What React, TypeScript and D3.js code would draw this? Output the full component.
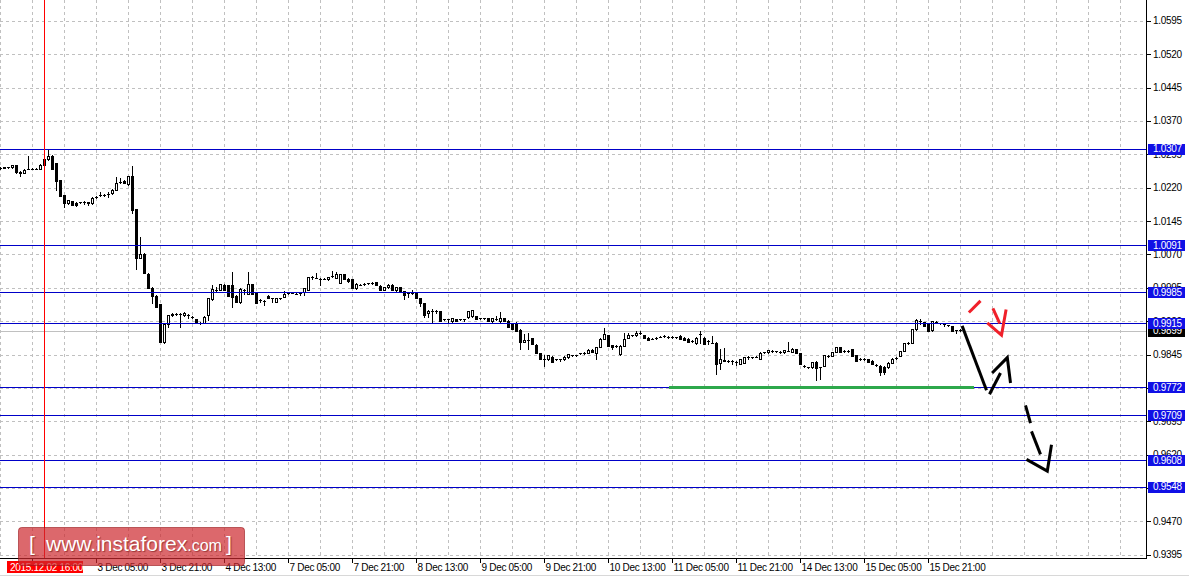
import * as d3 from 'd3';
import * as React from 'react';

const W = 1189;
const H = 578;
const plotRight = 1147;
const plotBottom = 558;

// H1 candles [open, high, low, close]
const candles: Array<[number, number, number, number]> = [
  [1.0265, 1.0267, 1.0263, 1.0265], [1.0265, 1.0267, 1.0264, 1.0266], [1.0266, 1.0267, 1.0264, 1.0266],
  [1.0266, 1.0271, 1.0265, 1.027], [1.027, 1.0271, 1.0254, 1.0255], [1.0255, 1.0257, 1.0246, 1.0254],
  [1.0254, 1.0261, 1.0252, 1.026], [1.0262, 1.0292, 1.0261, 1.0263], [1.0263, 1.0264, 1.0261, 1.0263],
  [1.0263, 1.0264, 1.0261, 1.0263], [1.0263, 1.0273, 1.0262, 1.0272], [1.0272, 1.0285, 1.0271, 1.0284],
  [1.0284, 1.0305, 1.0283, 1.0291], [1.0291, 1.0293, 1.0262, 1.0263], [1.0275, 1.0276, 1.0215, 1.0234],
  [1.0237, 1.0238, 1.0201, 1.0202], [1.0203, 1.0204, 1.0177, 1.0186], [1.0185, 1.0193, 1.0184, 1.0192],
  [1.019, 1.0191, 1.018, 1.018], [1.0186, 1.0187, 1.0179, 1.0182], [1.0187, 1.0188, 1.0185, 1.0187],
  [1.0187, 1.0189, 1.0183, 1.0187], [1.0187, 1.0188, 1.018, 1.0186], [1.0185, 1.0198, 1.0184, 1.0197],
  [1.02, 1.0201, 1.0196, 1.02], [1.0203, 1.0211, 1.0202, 1.0203], [1.0203, 1.0205, 1.0201, 1.0203],
  [1.0205, 1.021, 1.02, 1.0205], [1.0207, 1.0216, 1.0206, 1.0215], [1.0215, 1.0243, 1.0214, 1.023],
  [1.0233, 1.0241, 1.0231, 1.0233], [1.0236, 1.0237, 1.023, 1.023], [1.0228, 1.0247, 1.0227, 1.0246],
  [1.0246, 1.0269, 1.0162, 1.017], [1.0172, 1.0173, 1.0038, 1.0062], [1.0062, 1.011, 1.0061, 1.0072],
  [1.0072, 1.0073, 1.0028, 1.0029], [1.0027, 1.0028, 0.9994, 0.9995], [0.9995, 0.9996, 0.996, 0.9977],
  [0.9977, 0.9978, 0.9951, 0.9952], [0.9958, 0.9959, 0.9873, 0.9874], [0.9874, 0.9914, 0.987, 0.9913],
  [0.9913, 0.9935, 0.9906, 0.9934], [0.9935, 0.9939, 0.9931, 0.9936], [0.9936, 0.9938, 0.9933, 0.9936],
  [0.9936, 0.9938, 0.9907, 0.9936], [0.9934, 0.994, 0.9932, 0.9939], [0.9934, 0.9936, 0.9928, 0.9934],
  [0.993, 0.9932, 0.9928, 0.993], [0.9924, 0.9925, 0.9915, 0.9915], [0.9916, 0.9918, 0.9914, 0.9916],
  [0.9916, 0.9931, 0.9915, 0.993], [0.9934, 0.9972, 0.9922, 0.9972], [0.9969, 1.0001, 0.9968, 0.9993],
  [0.9991, 0.9996, 0.9986, 0.9991], [0.9991, 1.0004, 0.999, 1.0003], [1.0001, 1.0003, 0.999, 0.9991],
  [1.0001, 1.0002, 0.9977, 0.9977], [1.0001, 1.0031, 0.9952, 0.9975], [0.9977, 0.9978, 0.9962, 0.9963],
  [0.9962, 0.9995, 0.996, 0.9993], [0.9991, 0.9993, 0.9982, 0.999], [0.9982, 1.003, 0.9981, 1.0003],
  [1.0003, 1.0004, 0.9982, 0.9982], [0.9985, 0.9986, 0.9961, 0.9961], [0.9967, 0.9969, 0.9964, 0.9967],
  [0.9965, 0.9967, 0.9956, 0.9965], [0.9977, 0.9978, 0.9971, 0.9971], [0.9971, 0.9972, 0.9963, 0.9971],
  [0.9963, 0.9973, 0.9962, 0.9972], [0.9971, 0.9973, 0.9969, 0.9971], [0.9975, 0.9987, 0.9974, 0.9982],
  [0.9984, 0.9985, 0.9982, 0.9984], [0.9984, 0.9985, 0.9983, 0.9984], [0.9982, 0.9984, 0.998, 0.9982],
  [0.9983, 0.9984, 0.9979, 0.9983], [0.9985, 0.9995, 0.9979, 0.9995], [0.9991, 1.0019, 0.999, 1.0019],
  [1.0019, 1.0021, 1.0014, 1.0019], [1.0017, 1.0028, 1.0016, 1.0017], [1.0015, 1.0016, 1.0002, 1.0015],
  [1.0015, 1.0016, 1.0014, 1.0015], [1.0014, 1.002, 1.0013, 1.0019], [1.0021, 1.0032, 1.002, 1.0021],
  [1.0017, 1.003, 1.0016, 1.0026], [1.0006, 1.0027, 1.0005, 1.0026], [1.0026, 1.0027, 1.0015, 1.0015],
  [1.0015, 1.0016, 1.0008, 1.0011], [1.0014, 1.0015, 0.9995, 0.9995], [0.9994, 1.0005, 0.9993, 1.0004],
  [1.0002, 1.0004, 1.0001, 1.0002], [1.0004, 1.0005, 1.0002, 1.0004], [1.0005, 1.0006, 1.0003, 1.0005],
  [1.0006, 1.0007, 1.0004, 1.0006], [1.0008, 1.0009, 1.0002, 1.0002], [1.0, 1.0001, 0.9991, 0.9991],
  [0.999, 0.9997, 0.9989, 0.9996], [0.9996, 1.0003, 0.9995, 1.0002], [1.0002, 1.0003, 0.9989, 0.9989],
  [0.9989, 0.9997, 0.9988, 0.9996], [0.9996, 0.9997, 0.9985, 0.9985], [0.9987, 0.9988, 0.997, 0.9978],
  [0.9983, 0.9985, 0.9974, 0.9983], [0.9983, 0.9989, 0.9982, 0.9983], [0.9983, 0.9984, 0.9972, 0.9972],
  [0.9972, 0.9973, 0.9955, 0.996], [0.996, 0.9961, 0.9929, 0.9933], [0.9939, 0.9944, 0.9929, 0.9942],
  [0.9942, 0.9948, 0.9919, 0.9942], [0.9942, 0.9944, 0.9939, 0.9942], [0.9942, 0.9943, 0.992, 0.992],
  [0.9925, 0.9926, 0.9923, 0.9925], [0.9924, 0.9925, 0.9918, 0.9924], [0.992, 0.9928, 0.9919, 0.9927],
  [0.9925, 0.9926, 0.992, 0.992], [0.9924, 0.9925, 0.9922, 0.9924], [0.9925, 0.9926, 0.992, 0.9925],
  [0.9929, 0.9943, 0.9928, 0.9942], [0.9931, 0.9945, 0.993, 0.9944], [0.9931, 0.9932, 0.9925, 0.9925],
  [0.9927, 0.9928, 0.9925, 0.9927], [0.9927, 0.9928, 0.9925, 0.9927], [0.9927, 0.9928, 0.9921, 0.9921],
  [0.992, 0.9928, 0.9919, 0.9927], [0.9924, 0.9931, 0.9923, 0.9924], [0.992, 0.994, 0.9919, 0.9927],
  [0.9927, 0.9928, 0.992, 0.992], [0.9921, 0.9922, 0.9906, 0.9906], [0.9916, 0.9917, 0.9903, 0.9903],
  [0.9916, 0.9918, 0.9899, 0.9899], [0.9901, 0.9902, 0.9858, 0.9873], [0.9874, 0.9891, 0.9873, 0.9878],
  [0.9878, 0.9893, 0.9858, 0.9878], [0.9882, 0.9883, 0.9869, 0.9869], [0.9867, 0.9868, 0.9848, 0.9848],
  [0.9848, 0.9849, 0.9834, 0.9834], [0.9834, 0.9843, 0.9819, 0.9835], [0.9834, 0.9844, 0.9833, 0.9843],
  [0.984, 0.9841, 0.9829, 0.9829], [0.9835, 0.9836, 0.9833, 0.9835], [0.9835, 0.9836, 0.9831, 0.9835],
  [0.9834, 0.9841, 0.9833, 0.984], [0.9839, 0.9847, 0.9838, 0.9846], [0.9844, 0.9845, 0.9842, 0.9844],
  [0.9843, 0.9844, 0.9841, 0.9843], [0.9848, 0.9849, 0.9846, 0.9848], [0.9848, 0.985, 0.9847, 0.9848],
  [0.9849, 0.9858, 0.9848, 0.9856], [0.9856, 0.9857, 0.985, 0.9851], [0.9848, 0.9863, 0.9835, 0.9862],
  [0.9862, 0.9882, 0.9861, 0.9881], [0.9881, 0.9905, 0.988, 0.9891], [0.9888, 0.9889, 0.9864, 0.9865],
  [0.9866, 0.9867, 0.9857, 0.9862], [0.9865, 0.9866, 0.9862, 0.9865], [0.9846, 0.9866, 0.9845, 0.9865],
  [0.9865, 0.9894, 0.9864, 0.9881], [0.9883, 0.9894, 0.9882, 0.9888], [0.9888, 0.9889, 0.9886, 0.9888],
  [0.9888, 0.9898, 0.9887, 0.9894], [0.9893, 0.9898, 0.9892, 0.9893], [0.9888, 0.9889, 0.9883, 0.9883],
  [0.9883, 0.9884, 0.9878, 0.9878], [0.9881, 0.9882, 0.9879, 0.9881], [0.9883, 0.9884, 0.9881, 0.9883],
  [0.9885, 0.9886, 0.9884, 0.9885], [0.9887, 0.989, 0.9884, 0.9887], [0.9885, 0.9886, 0.9883, 0.9885],
  [0.9885, 0.9886, 0.9883, 0.9885], [0.9884, 0.9885, 0.9882, 0.9884], [0.9887, 0.9888, 0.9881, 0.9881],
  [0.9883, 0.9884, 0.9878, 0.9878], [0.9881, 0.9882, 0.9873, 0.9873], [0.9876, 0.9877, 0.9874, 0.9876],
  [0.987, 0.9884, 0.9869, 0.9883], [0.9892, 0.9899, 0.9872, 0.9892], [0.9883, 0.9884, 0.9869, 0.9869],
  [0.9876, 0.9877, 0.9868, 0.9876], [0.9872, 0.9887, 0.9871, 0.9872], [0.9872, 0.9873, 0.9802, 0.9824],
  [0.9826, 0.9857, 0.9813, 0.9835], [0.9833, 0.986, 0.983, 0.9831], [0.9831, 0.9833, 0.9829, 0.9831],
  [0.9831, 0.9833, 0.9824, 0.9831], [0.9829, 0.9831, 0.9822, 0.9829], [0.9824, 0.9836, 0.9823, 0.9836],
  [0.9826, 0.9839, 0.9825, 0.9839], [0.984, 0.9842, 0.9835, 0.984], [0.9839, 0.984, 0.9837, 0.9839],
  [0.984, 0.9842, 0.9839, 0.984], [0.9836, 0.985, 0.9835, 0.9848], [0.985, 0.9851, 0.9848, 0.985],
  [0.985, 0.9856, 0.9849, 0.9855], [0.9853, 0.9855, 0.9851, 0.9853], [0.9852, 0.9853, 0.985, 0.9852],
  [0.9851, 0.9852, 0.9849, 0.9851], [0.985, 0.9856, 0.9849, 0.9855], [0.9853, 0.9874, 0.9852, 0.9853],
  [0.9851, 0.9859, 0.985, 0.9858], [0.9857, 0.9858, 0.9848, 0.9848], [0.9848, 0.9849, 0.9824, 0.9824],
  [0.982, 0.9822, 0.9816, 0.982], [0.9816, 0.9818, 0.9814, 0.9816], [0.9816, 0.9829, 0.9815, 0.9829],
  [0.9829, 0.983, 0.9787, 0.9815], [0.9816, 0.9818, 0.979, 0.9816], [0.982, 0.9844, 0.9819, 0.9844],
  [0.9842, 0.9844, 0.984, 0.9842], [0.9842, 0.985, 0.9841, 0.985], [0.9851, 0.9862, 0.985, 0.9862],
  [0.9862, 0.9863, 0.985, 0.985], [0.9853, 0.9855, 0.9851, 0.9853], [0.9853, 0.9855, 0.9851, 0.9853],
  [0.9857, 0.9858, 0.9842, 0.9842], [0.9844, 0.9845, 0.9831, 0.9831], [0.9835, 0.9837, 0.9833, 0.9835],
  [0.9835, 0.9837, 0.9833, 0.9835], [0.9835, 0.9836, 0.9829, 0.9829], [0.9831, 0.9832, 0.9824, 0.9824],
  [0.9822, 0.9824, 0.982, 0.9822], [0.982, 0.9821, 0.9798, 0.9805], [0.9818, 0.9819, 0.9802, 0.9805],
  [0.9816, 0.9828, 0.9815, 0.9827], [0.9827, 0.9837, 0.9826, 0.9836], [0.9838, 0.984, 0.9836, 0.9838],
  [0.9842, 0.9853, 0.9841, 0.9853], [0.9853, 0.9872, 0.9852, 0.9872], [0.987, 0.9873, 0.9869, 0.9872],
  [0.9872, 0.9903, 0.9871, 0.9902], [0.9902, 0.9924, 0.9901, 0.9922], [0.992, 0.9924, 0.9913, 0.992],
  [0.9918, 0.9919, 0.9909, 0.9909], [0.9916, 0.9917, 0.9898, 0.9898], [0.99, 0.9921, 0.9899, 0.992],
  [0.9918, 0.992, 0.9916, 0.9918], [0.9915, 0.9917, 0.9913, 0.9915], [0.9913, 0.9914, 0.9909, 0.9913],
  [0.9911, 0.9912, 0.9909, 0.9911], [0.9909, 0.991, 0.9898, 0.9898], [0.99, 0.9901, 0.9894, 0.99],
  [0.9901, 0.9902, 0.9899, 0.9901],
];

const levels = [1.0307, 1.0091, 0.9985, 0.9915, 0.9772, 0.9709, 0.9608, 0.9548];
const bidPrice = 0.9899;
const priceTicks = [
  1.0595, 1.052, 1.0445, 1.037, 1.0295, 1.022, 1.0145, 1.007, 0.9995,
  0.992, 0.9845, 0.977, 0.9695, 0.962, 0.9545, 0.947, 0.9395,
];
const timeTickBars = [24, 40, 56, 72, 88, 104, 120, 136, 152, 168, 184, 200, 216, 232];
const timeTickLabels = [
  '3 Dec 05:00', '3 Dec 21:00', '4 Dec 13:00', '7 Dec 05:00', '7 Dec 21:00',
  '8 Dec 13:00', '9 Dec 05:00', '9 Dec 21:00', '10 Dec 13:00', '11 Dec 05:00', '11 Dec 21:00',
  '14 Dec 13:00', '15 Dec 05:00', '15 Dec 21:00',
];
const hiddenTickBar = 8; // its label sits under the marker label
const markerBar = 11;
const markerLabel = '2015.12.02 16:00';

// green support segment [fromBar, toBar, price]
const support: [number, number, number] = [167.25, 243.5, 0.9772];

// hand-drawn arrows, points as [bar, price]
const redStrokes: Array<Array<[number, number]>> = [
  [[242.1, 0.99395], [245, 0.99656]],
  [[248.1, 0.99485], [249.8, 0.99148]],
  [[246.7, 0.99161], [250.25, 0.98884], [251.4, 0.99463]],
];
const blackStrokes: Array<Array<[number, number]>> = [
  [[240.4, 0.99094], [246.5, 0.97647]],
  [[247.25, 0.97557], [250, 0.98036]],
  [[247.9, 0.98036], [251.7, 0.98382], [252.5, 0.97811]],
  [[256.25, 0.97309], [257.5, 0.96911]],
  [[257.75, 0.96724], [260, 0.96207]],
  [[256.5, 0.96094], [261.7, 0.95831], [262.75, 0.96425]],
];

const axisFont = "'Liberation Sans', Arial, sans-serif";

export default function App() {
  const x = d3.scaleLinear().domain([0, 286.75]).range([0, plotRight]);
  const y = d3.scaleLinear().domain([0.9395, 1.0595]).range([554.8, 20.8]);
  const py = (p: number) => Math.round(y(p)) + 0.5;
  const px = (b: number) => Math.round(x(b)) + 0.5;

  const line = d3
    .line<[number, number]>()
    .x(d => x(d[0]) + 0.5)
    .y(d => y(d[1]));

  const gridBars = d3.range(0, 281, 8);

  return (
    <svg
      width={W}
      height={H}
      style={{ position: 'absolute', left: 0, top: 0, background: '#fff' }}
    >
      <rect x={0} y={0} width={W} height={H} fill="#fff" />
      {/* grid */}
      <g stroke="#c0c0c0" strokeDasharray="3,3">
        {gridBars.map(b => (
          <line key={'v' + b} x1={px(b)} x2={px(b)} y1={0} y2={plotBottom} />
        ))}
        {priceTicks.map(p => (
          <line key={'h' + p} x1={0} x2={plotRight} y1={py(p)} y2={py(p)} />
        ))}
      </g>
      {/* bid line */}
      <line x1={0} x2={plotRight} y1={py(bidPrice)} y2={py(bidPrice)} stroke="#c0c0c0" />

      {/* candles */}
      <g>
        {candles.map(([o, h, l, c], i) => {
          const cx = Math.round(x(i));
          const yo = Math.round(y(o));
          const yc = Math.round(y(c));
          const top = Math.min(yo, yc);
          const bot = Math.max(yo, yc);
          return (
            <g key={i}>
              <line
                x1={cx + 0.5}
                x2={cx + 0.5}
                y1={Math.round(y(h))}
                y2={Math.round(y(l)) + 1}
                stroke="#000"
              />
              {bot - top < 1 ? (
                <line x1={cx - 1} x2={cx + 2} y1={top + 0.5} y2={top + 0.5} stroke="#000" />
              ) : (
                <rect
                  x={cx - 0.5}
                  y={top + 0.5}
                  width={2}
                  height={bot - top}
                  fill={c >= o ? '#fff' : '#000'}
                  stroke="#000"
                />
              )}
            </g>
          );
        })}
      </g>

      {/* levels */}
      {levels.map(p => (
        <line key={p} x1={0} x2={plotRight} y1={py(p)} y2={py(p)} stroke="#0000c8" />
      ))}
      <line
        x1={x(support[0])}
        x2={x(support[1])}
        y1={y(support[2]) + 0.5}
        y2={y(support[2]) + 0.5}
        stroke="#2da84b"
        strokeWidth={3}
      />

      {/* arrows */}
      {redStrokes.map((s, i) => (
        <path key={'r' + i} d={line(s) || ''} fill="none" stroke="#f0202a" strokeWidth={3} />
      ))}
      {blackStrokes.map((s, i) => (
        <path key={'b' + i} d={line(s) || ''} fill="none" stroke="#000" strokeWidth={3} />
      ))}

      {/* marker line */}
      <line x1={px(markerBar)} x2={px(markerBar)} y1={0} y2={plotBottom} stroke="#ff0000" />

      {/* axes */}
      <line x1={plotRight - 0.5} x2={plotRight - 0.5} y1={0} y2={plotBottom} stroke="#000" />
      <line x1={0} x2={plotRight} y1={plotBottom + 0.5} y2={plotBottom + 0.5} stroke="#000" />
      <line x1={0} x2={W} y1={575.5} y2={575.5} stroke="#d8d8d8" />

      {/* price axis */}
      <g fontFamily={axisFont} fontSize={10} letterSpacing={-0.3}>
        {priceTicks.map(p => (
          <g key={p}>
            <line x1={plotRight} x2={plotRight + 4} y1={py(p)} y2={py(p)} stroke="#000" />
            <text x={plotRight + 6} y={y(p) + 3.5} fill="#000">
              {p.toFixed(4)}
            </text>
          </g>
        ))}
        <rect x={plotRight + 1} y={Math.round(y(bidPrice)) - 5} width={37} height={11} fill="#000" />
        <text x={plotRight + 6} y={y(bidPrice) + 3.5} fill="#fff">
          {bidPrice.toFixed(4)}
        </text>
        {levels.map(p => (
          <g key={'l' + p}>
            <rect x={plotRight + 1} y={Math.round(y(p)) - 5} width={37} height={11} fill="#1010e6" />
            <text x={plotRight + 6} y={y(p) + 3.5} fill="#fff">
              {p.toFixed(4)}
            </text>
          </g>
        ))}
      </g>

      {/* time axis */}
      <g fontFamily={axisFont} fontSize={10} letterSpacing={-0.3}>
        <line
          x1={px(hiddenTickBar)}
          x2={px(hiddenTickBar)}
          y1={plotBottom}
          y2={plotBottom + 5}
          stroke="#000"
        />
        {timeTickBars.map((b, i) => (
          <g key={b}>
            <line x1={px(b)} x2={px(b)} y1={plotBottom} y2={plotBottom + 5} stroke="#000" />
            <text x={px(b) + 1} y={571} fill="#000">
              {timeTickLabels[i]}
            </text>
          </g>
        ))}
        <rect x={7} y={561} width={76} height={12} fill="#ff0000" />
        <text x={10} y={571} fill="#fff">
          {markerLabel}
        </text>
      </g>

      {/* watermark */}
      <g>
        <rect
          x={18.5}
          y={527.5}
          width={226}
          height={38}
          rx={3}
          fill="rgba(205,40,45,0.7)"
          stroke="rgba(150,20,25,0.6)"
        />
        <text
          y={551}
          fill="#fff"
          fontFamily={axisFont}
          fontSize={21}
          style={{ textShadow: '1px 1px 1px rgba(90,0,0,0.5)' }}
        >
          <tspan x={29}>[</tspan>
          <tspan x={46}>www.instaforex</tspan>
          <tspan fontSize={16}>.com</tspan>
          <tspan x={226}>]</tspan>
        </text>
      </g>
    </svg>
  );
}
